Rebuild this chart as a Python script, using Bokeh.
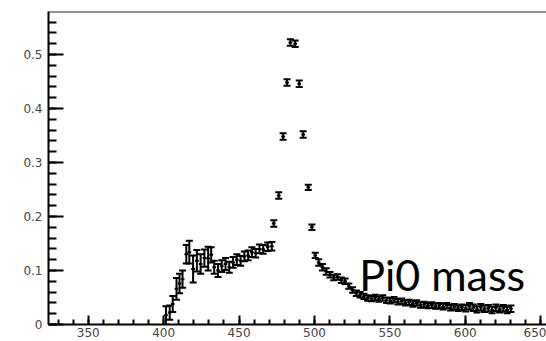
from bokeh.plotting import figure
from bokeh.models import (ColumnDataSource, Whisker, TeeHead, FixedTicker, Label,
                          Range1d, Span)
from bokeh.embed import file_html
from bokeh.resources import INLINE

# Invariant-mass histogram (MeV) with statistical errors
mass = [
    401.5, 404.0, 406.0, 408.5, 410.5, 412.5, 415.0, 417.0, 419.5, 422.0,
    424.5, 427.0, 429.5, 431.5, 433.5, 436.0, 438.5, 441.0, 443.5, 446.0,
    448.5, 451.0, 453.5, 456.0, 458.5, 461.0, 463.5, 466.0, 469.0, 471.7,
    473.0, 476.3, 479.2, 481.8, 484.0, 487.2, 489.9, 492.5, 495.9, 498.3,
    500.5, 502.8, 505.3, 507.8, 510.3, 512.8, 515.3, 517.8, 520.3, 522.8,
    525.3, 527.8, 530.3, 532.8, 535.3, 537.8, 540.3, 542.8, 545.3, 547.8,
    550.3, 552.8, 555.3, 557.8, 560.3, 562.8, 565.3, 567.8, 570.3, 572.8,
    575.3, 577.8, 580.3, 582.8, 585.3, 587.8, 590.3, 592.8, 595.3, 597.8,
    600.3, 602.8, 605.3, 607.8, 610.3, 612.8, 615.3, 617.8, 620.3, 622.8,
    625.3, 627.8, 630.3,
]
counts = [
    0.017, 0.022, 0.038, 0.066, 0.076, 0.084, 0.130, 0.134, 0.103, 0.118,
    0.112, 0.123, 0.122, 0.129, 0.106, 0.100, 0.108, 0.112, 0.106, 0.115,
    0.120, 0.118, 0.126, 0.128, 0.134, 0.132, 0.140, 0.139, 0.144, 0.145,
    0.187, 0.239, 0.348, 0.448, 0.522, 0.520, 0.446, 0.352, 0.254, 0.180,
    0.128, 0.115, 0.106, 0.098, 0.092, 0.087, 0.088, 0.082, 0.080, 0.071,
    0.064, 0.058, 0.055, 0.052, 0.049, 0.048, 0.050, 0.047, 0.049, 0.045,
    0.044, 0.046, 0.042, 0.043, 0.040, 0.041, 0.038, 0.040, 0.036, 0.037,
    0.035, 0.036, 0.034, 0.035, 0.033, 0.035, 0.031, 0.033, 0.030, 0.032,
    0.030, 0.034, 0.031, 0.028, 0.032, 0.029, 0.030, 0.027, 0.031, 0.028,
    0.030, 0.027, 0.029,
]
errors = [
    0.017, 0.013, 0.015, 0.020, 0.018, 0.016, 0.017, 0.021, 0.025, 0.020,
    0.018, 0.016, 0.022, 0.014, 0.012, 0.012, 0.011, 0.011, 0.010, 0.010,
    0.010, 0.009, 0.009, 0.009, 0.009, 0.008, 0.008, 0.008, 0.008, 0.008,
    0.006, 0.006, 0.006, 0.006, 0.006, 0.006, 0.006, 0.006, 0.005, 0.005,
    0.005, 0.006, 0.006, 0.006, 0.005, 0.005, 0.005, 0.005, 0.005, 0.005,
    0.005, 0.005, 0.005, 0.005, 0.005, 0.005, 0.005, 0.005, 0.005, 0.005,
    0.005, 0.005, 0.005, 0.005, 0.005, 0.005, 0.005, 0.005, 0.005, 0.005,
    0.005, 0.005, 0.005, 0.005, 0.005, 0.005, 0.005, 0.005, 0.005, 0.005,
    0.006, 0.006, 0.006, 0.006, 0.006, 0.006, 0.006, 0.006, 0.006, 0.006,
    0.006, 0.006, 0.006,
]
bin_half_width = 1.25

x_major = [350, 400, 450, 500, 550, 600, 650]
y_major = [0, 0.1, 0.2, 0.3, 0.4, 0.5]
y_labels = ["0", "0.1", "0.2", "0.3", "0.4", "0.5"]

src = ColumnDataSource(dict(
    x=mass, y=counts,
    lo=[c - e for c, e in zip(counts, errors)],
    hi=[c + e for c, e in zip(counts, errors)],
    xl=[m - bin_half_width for m in mass],
    xr=[m + bin_half_width for m in mass],
))

p = figure(width=546, height=341, output_backend="svg", toolbar_location=None,
           x_range=Range1d(323.6, 653.9), y_range=Range1d(0, 0.5796),
           min_border_left=48, min_border_right=0, min_border_top=11,
           min_border_bottom=17)
p.outline_line_color = None
p.grid.visible = False
p.background_fill_color = "white"
p.border_fill_color = "white"

# horizontal bin-width bars
p.segment(x0="xl", y0="y", x1="xr", y1="y", source=src,
          line_color="black", line_width=2)
# vertical error bars with end caps
p.add_layout(Whisker(base="x", lower="lo", upper="hi", source=src,
                     line_color="black", line_width=2,
                     upper_head=TeeHead(size=7, line_color="black", line_width=2),
                     lower_head=TeeHead(size=7, line_color="black", line_width=2)))

# top frame line
p.add_layout(Span(location=0.5796, dimension="width", line_color="#222222",
                  line_width=2))

for ax in (p.xaxis[0], p.yaxis[0]):
    ax.axis_line_width = 2
    ax.axis_line_color = "black"
    ax.major_tick_line_width = 2
    ax.minor_tick_line_width = 2
    ax.major_tick_line_color = "black"
    ax.minor_tick_line_color = "black"
    ax.major_tick_out = 0
    ax.minor_tick_out = 0
    ax.major_label_text_font = "DejaVu Sans"
    ax.major_label_text_font_size = "12px"
    ax.major_label_text_color = "#444444"

p.xaxis.ticker = FixedTicker(ticks=x_major,
                             minor_ticks=list(range(330, 660, 10)))
p.xaxis.major_tick_in = 9
p.xaxis.minor_tick_in = 5
p.xaxis.major_label_standoff = 3

p.yaxis.ticker = FixedTicker(ticks=y_major,
                             minor_ticks=[i * 0.02 for i in range(0, 30)])
p.yaxis.major_label_overrides = {t: s for t, s in zip(y_major, y_labels)}
p.yaxis.major_tick_in = 15
p.yaxis.minor_tick_in = 8
p.yaxis.major_label_standoff = 6

p.add_layout(Label(x=529.7, y=0.093, text="Pi0 mass", text_font="Lato",
                   text_font_size="43px", text_color="black",
                   text_baseline="alphabetic", text_align="left"))

open("out.html", "w").write(file_html(p, INLINE))
